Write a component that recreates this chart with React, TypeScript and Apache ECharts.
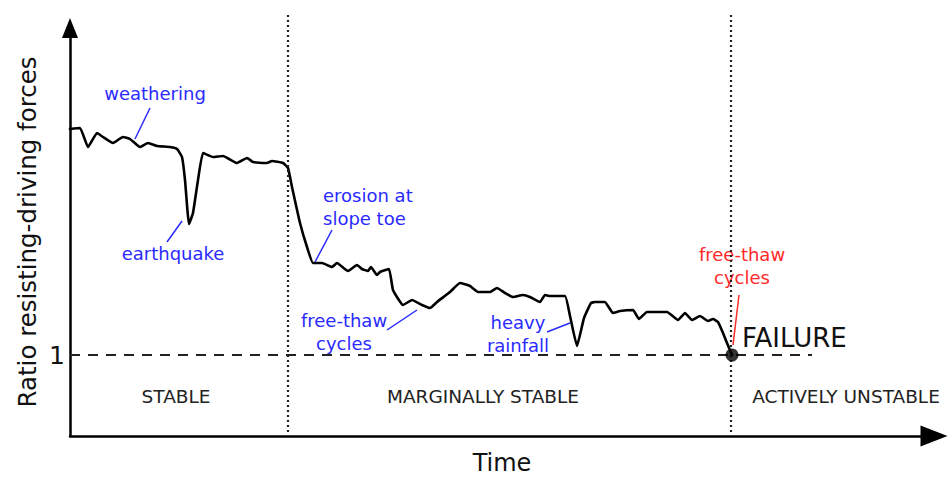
import React, { useEffect, useRef } from "react";
import * as echarts from "echarts";

// Time (arbitrary units) and ratio of resisting to driving forces
const timeValues = [
  0, 10, 18, 27, 33, 43, 53, 60, 70, 78, 87, 100, 107, 112, 115, 119, 123, 128, 133, 143,
  153, 167, 177, 183, 197, 202, 213, 218, 222, 230, 237, 243, 252, 262, 267, 278, 287, 292,
  298, 301, 307, 310, 319, 323, 333, 342, 352, 360, 367, 380, 390, 400, 408, 420, 427, 435,
  443, 453, 460, 470, 475, 480, 495, 500, 507, 514, 521, 525, 530, 535, 543, 550, 563, 569,
  577, 597, 608, 615, 622, 630, 638, 643, 648, 653, 657, 662,
];
const ratioValues = [
  2.13, 2.135, 2.04, 2.11, 2.09, 2.06, 2.09, 2.08, 2.04, 2.06, 2.045, 2.04, 2.03, 1.99, 1.875,
  1.655, 1.71, 1.875, 2.01, 1.99, 1.995, 1.96, 1.985, 1.965, 1.96, 1.97, 1.96, 1.935, 1.84,
  1.66, 1.54, 1.46, 1.46, 1.44, 1.46, 1.42, 1.45, 1.43, 1.42, 1.44, 1.4, 1.415, 1.43, 1.325,
  1.25, 1.275, 1.25, 1.235, 1.265, 1.315, 1.36, 1.345, 1.315, 1.315, 1.335, 1.31, 1.29, 1.3,
  1.29, 1.265, 1.3, 1.295, 1.295, 1.195, 1.045, 1.185, 1.26, 1.265, 1.265, 1.265, 1.21, 1.22,
  1.225, 1.18, 1.215, 1.215, 1.175, 1.21, 1.175, 1.195, 1.17, 1.18, 1.165, 1.11, 1.06, 1.0,
];
const failurePoint = [662, 1.0];
const criticalRatio = 1;
const criticalLineEnd = 742;
const stageBoundaries = [218, 661];
const boundaryRange = [0.615, 2.715];
const yRange = [0.595, 2.725];
const xRange = [0, 864];
const yTickLabels = [1];

const FONT = "DejaVu Sans";
const BLUE = "#2a2aff";
const RED = "#ff2a2a";

export default function App() {
  const ref = useRef<HTMLDivElement>(null);
  useEffect(() => {
    if (!ref.current) return;
    const chart = echarts.init(ref.current, null, { renderer: "svg" });
    const lineData = timeValues.map((t, i) => [t, ratioValues[i]]);

    const txt = (
      text: string,
      x: number,
      y: number,
      size: number,
      fill: string,
      align: string = "center"
    ) => ({
      type: "text",
      x,
      y,
      silent: true,
      style: {
        text,
        fill,
        fontSize: size,
        fontFamily: FONT,
        align,
        verticalAlign: "middle",
        textAlign: align,
        textVerticalAlign: "middle",
        lineHeight: 23,
      },
    });
    const leader = (x1: number, y1: number, x2: number, y2: number, stroke: string) => ({
      type: "line",
      silent: true,
      shape: { x1, y1, x2, y2 },
      style: { stroke, lineWidth: 1.5 },
    });

    chart.setOption({
      animation: false,
      backgroundColor: "#ffffff",
      grid: [
        { left: 70, right: 14, top: 10, bottom: 41, outerBoundsMode: "none", containLabel: false },
        { left: 70, right: 14, top: 28, bottom: 41, outerBoundsMode: "none", containLabel: false },
      ],
      xAxis: [
        {
          type: "value",
          gridIndex: 0,
          min: xRange[0],
          max: xRange[1],
          axisLine: {
            show: true,
            symbol: ["none", "triangle"],
            symbolSize: [21, 27],
            lineStyle: { color: "#000", width: 2.5 },
          },
          axisTick: { show: false },
          axisLabel: { show: false },
          splitLine: { show: false },
          name: "Time",
          nameLocation: "middle",
          nameGap: 15,
          nameTextStyle: { fontFamily: FONT, fontSize: 24, color: "#111", lineHeight: 24 },
        },
        {
          type: "value",
          gridIndex: 1,
          min: xRange[0],
          max: xRange[1],
          show: false,
        },
      ],
      yAxis: [
        {
          type: "value",
          gridIndex: 0,
          min: yRange[0],
          max: yRange[1],
          axisLine: { show: false },
          axisTick: { show: false },
          splitLine: { show: false },
          axisLabel: {
            customValues: yTickLabels,
            fontFamily: FONT,
            fontSize: 25,
            color: "#111",
            margin: 5,
          },
        },
        {
          type: "value",
          gridIndex: 1,
          min: 0,
          max: 1,
          axisLine: {
            show: true,
            symbol: ["none", "triangle"],
            symbolSize: [16, 20],
            lineStyle: { color: "#000", width: 2.5 },
          },
          axisTick: { show: false },
          axisLabel: { show: false },
          splitLine: { show: false },
          name: "Ratio resisting-driving forces",
          nameLocation: "middle",
          nameGap: 30,
          nameTextStyle: { fontFamily: FONT, fontSize: 24.5, color: "#111" },
        },
      ],
      series: [
        {
          type: "line",
          xAxisIndex: 0,
          yAxisIndex: 0,
          data: lineData,
          showSymbol: false,
          smooth: 0.12,
          clip: false,
          lineStyle: { color: "#000", width: 2.6, join: "round", cap: "round" },
          silent: true,
          markLine: {
            silent: true,
            symbol: ["none", "none"],
            label: { show: false },
            data: [
              [
                {
                  coord: [xRange[0], criticalRatio],
                  lineStyle: { type: [10, 8], color: "#222", width: 2 },
                },
                { coord: [criticalLineEnd, criticalRatio] },
              ],
              ...stageBoundaries.map((b) => [
                {
                  coord: [b, boundaryRange[0]],
                  lineStyle: { type: [2, 3], color: "#222", width: 2.2 },
                },
                { coord: [b, boundaryRange[1]] },
              ]),
            ],
          },
        },
        {
          type: "scatter",
          xAxisIndex: 0,
          yAxisIndex: 0,
          data: [failurePoint],
          symbolSize: 13,
          itemStyle: { color: "#000" },
          silent: true,
          z: 5,
        },
      ],
      graphic: [
        txt("weathering", 155, 93, 18, BLUE),
        leader(150, 108, 135, 139, BLUE),
        txt("earthquake", 173, 253, 18, BLUE),
        leader(182, 221, 167, 242, BLUE),
        txt("erosion at\nslope toe", 323, 207, 18, BLUE, "left"),
        leader(332, 230, 315, 262, BLUE),
        txt("free-thaw\ncycles", 344, 332, 18, BLUE),
        leader(387, 330, 417, 310, BLUE),
        txt("heavy\nrainfall", 518, 334, 18, BLUE),
        leader(547, 332, 570, 323, BLUE),
        txt("free-thaw\ncycles", 742, 266, 18, RED),
        leader(739, 295, 733, 345, RED),
        txt("FAILURE", 742, 338, 26, "#111", "left"),
        txt("STABLE", 176, 396, 18.5, "#222"),
        txt("MARGINALLY STABLE", 483, 396, 18.5, "#222"),
        txt("ACTIVELY UNSTABLE", 846, 396, 18.5, "#222"),
      ],
    });
    return () => chart.dispose();
  }, []);
  return <div ref={ref} style={{ width: 948, height: 477, position: "absolute", left: 0, top: 0 }} />;
}
